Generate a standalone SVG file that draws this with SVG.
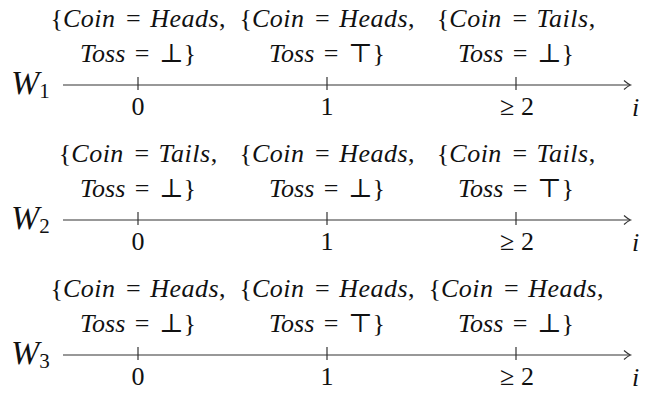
<svg xmlns="http://www.w3.org/2000/svg" width="645" height="394" viewBox="0 0 645 394">
<style>
.t{font-family:"Liberation Serif","DejaVu Serif",serif;font-size:26px;fill:#111}
.it{font-style:italic}
.w{letter-spacing:0.5px}
.ax{stroke:#333;stroke-width:1.2;fill:none}
.tk{stroke:#333;stroke-width:1.2}
</style>
<defs>
<marker id="arr" markerUnits="userSpaceOnUse" markerWidth="12" markerHeight="12" viewBox="-8 -6 10 12" refX="0" refY="0" orient="auto">
<path d="M-6,-4.5 Q-2,-1 0.5,0 Q-2,1 -6,4.5" stroke="#333" stroke-width="1.2" fill="none"/>
</marker>
</defs>
<rect width="645" height="394" fill="#fff"/>
<g id="connectors">
<line class="ax" x1="63" y1="85" x2="630" y2="85" marker-end="url(#arr)"/>
<line class="ax" x1="63" y1="220" x2="630" y2="220" marker-end="url(#arr)"/>
<line class="ax" x1="63" y1="355" x2="630" y2="355" marker-end="url(#arr)"/>
</g>
<g id="row1">
<g id="w1"><text class="t" x="11" y="94"><tspan class="it" font-size="34">W</tspan><tspan font-size="21" dy="4">1</tspan></text></g>
<g id="r1c0">
<text class="t" x="138" y="27" text-anchor="middle">{<tspan class="it w">Coin</tspan> <tspan dx="4">=</tspan> <tspan class="it w" dx="3">Heads</tspan>,</text>
<text class="t" x="138" y="62" text-anchor="middle"><tspan class="it">Toss</tspan> <tspan dx="3">=</tspan> <tspan dx="3">⊥}</tspan></text>
<line class="tk" x1="138" y1="77" x2="138" y2="90"/>
<text class="t" x="138" y="115" text-anchor="middle">0</text>
</g>
<g id="r1c1">
<text class="t" x="327" y="27" text-anchor="middle">{<tspan class="it w">Coin</tspan> <tspan dx="4">=</tspan> <tspan class="it w" dx="3">Heads</tspan>,</text>
<text class="t" x="327" y="62" text-anchor="middle"><tspan class="it">Toss</tspan> <tspan dx="3">=</tspan> <tspan dx="3">⊤}</tspan></text>
<line class="tk" x1="327" y1="77" x2="327" y2="90"/>
<text class="t" x="327" y="115" text-anchor="middle">1</text>
</g>
<g id="r1c2">
<text class="t" x="516" y="27" text-anchor="middle">{<tspan class="it w">Coin</tspan> <tspan dx="4">=</tspan> <tspan class="it w" dx="3">Tails</tspan>,</text>
<text class="t" x="516" y="62" text-anchor="middle"><tspan class="it">Toss</tspan> <tspan dx="3">=</tspan> <tspan dx="3">⊥}</tspan></text>
<line class="tk" x1="516" y1="77" x2="516" y2="90"/>
<text class="t" x="517" y="115" text-anchor="middle">≥ 2</text>
</g>
<g id="i1"><text class="t it" x="632" y="116">i</text></g>
</g>
<g id="row2">
<g id="w2"><text class="t" x="11" y="229"><tspan class="it" font-size="34">W</tspan><tspan font-size="21" dy="4">2</tspan></text></g>
<g id="r2c0">
<text class="t" x="138" y="162" text-anchor="middle">{<tspan class="it w">Coin</tspan> <tspan dx="4">=</tspan> <tspan class="it w" dx="3">Tails</tspan>,</text>
<text class="t" x="138" y="197" text-anchor="middle"><tspan class="it">Toss</tspan> <tspan dx="3">=</tspan> <tspan dx="3">⊥}</tspan></text>
<line class="tk" x1="138" y1="212" x2="138" y2="225"/>
<text class="t" x="138" y="250" text-anchor="middle">0</text>
</g>
<g id="r2c1">
<text class="t" x="327" y="162" text-anchor="middle">{<tspan class="it w">Coin</tspan> <tspan dx="4">=</tspan> <tspan class="it w" dx="3">Heads</tspan>,</text>
<text class="t" x="327" y="197" text-anchor="middle"><tspan class="it">Toss</tspan> <tspan dx="3">=</tspan> <tspan dx="3">⊥}</tspan></text>
<line class="tk" x1="327" y1="212" x2="327" y2="225"/>
<text class="t" x="327" y="250" text-anchor="middle">1</text>
</g>
<g id="r2c2">
<text class="t" x="516" y="162" text-anchor="middle">{<tspan class="it w">Coin</tspan> <tspan dx="4">=</tspan> <tspan class="it w" dx="3">Tails</tspan>,</text>
<text class="t" x="516" y="197" text-anchor="middle"><tspan class="it">Toss</tspan> <tspan dx="3">=</tspan> <tspan dx="3">⊤}</tspan></text>
<line class="tk" x1="516" y1="212" x2="516" y2="225"/>
<text class="t" x="517" y="250" text-anchor="middle">≥ 2</text>
</g>
<g id="i2"><text class="t it" x="632" y="251">i</text></g>
</g>
<g id="row3">
<g id="w3"><text class="t" x="11" y="364"><tspan class="it" font-size="34">W</tspan><tspan font-size="21" dy="4">3</tspan></text></g>
<g id="r3c0">
<text class="t" x="138" y="297" text-anchor="middle">{<tspan class="it w">Coin</tspan> <tspan dx="4">=</tspan> <tspan class="it w" dx="3">Heads</tspan>,</text>
<text class="t" x="138" y="332" text-anchor="middle"><tspan class="it">Toss</tspan> <tspan dx="3">=</tspan> <tspan dx="3">⊥}</tspan></text>
<line class="tk" x1="138" y1="347" x2="138" y2="360"/>
<text class="t" x="138" y="385" text-anchor="middle">0</text>
</g>
<g id="r3c1">
<text class="t" x="327" y="297" text-anchor="middle">{<tspan class="it w">Coin</tspan> <tspan dx="4">=</tspan> <tspan class="it w" dx="3">Heads</tspan>,</text>
<text class="t" x="327" y="332" text-anchor="middle"><tspan class="it">Toss</tspan> <tspan dx="3">=</tspan> <tspan dx="3">⊤}</tspan></text>
<line class="tk" x1="327" y1="347" x2="327" y2="360"/>
<text class="t" x="327" y="385" text-anchor="middle">1</text>
</g>
<g id="r3c2">
<text class="t" x="516" y="297" text-anchor="middle">{<tspan class="it w">Coin</tspan> <tspan dx="4">=</tspan> <tspan class="it w" dx="3">Heads</tspan>,</text>
<text class="t" x="516" y="332" text-anchor="middle"><tspan class="it">Toss</tspan> <tspan dx="3">=</tspan> <tspan dx="3">⊥}</tspan></text>
<line class="tk" x1="516" y1="347" x2="516" y2="360"/>
<text class="t" x="517" y="385" text-anchor="middle">≥ 2</text>
</g>
<g id="i3"><text class="t it" x="632" y="386">i</text></g>
</g>
</svg>
